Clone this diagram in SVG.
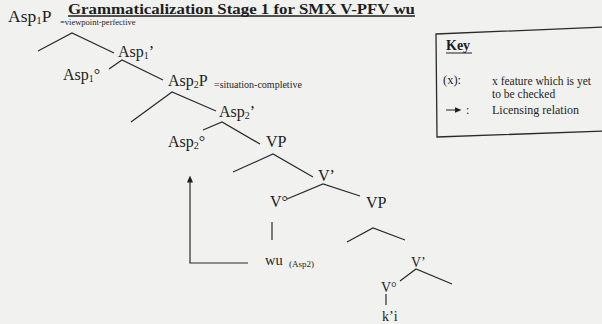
<svg xmlns="http://www.w3.org/2000/svg" width="602" height="324" viewBox="0 0 602 324">
<defs>
<style>
.t{font-family:"Liberation Serif","Times New Roman",serif;fill:#1e1e1e}
.n{font-size:16px}
.e{stroke:#2a2a2a;stroke-width:1.2;fill:none}
</style>
<marker id="ah" markerWidth="7" markerHeight="6" refX="3.5" refY="3" orient="auto" markerUnits="userSpaceOnUse">
<path d="M0,0 L7,3 L0,6 z" fill="#1e1e1e"/>
</marker>
</defs>
<rect width="602" height="324" fill="#f1f1ef"/>
<g id="title">
<text class="t" x="68" y="13.5" font-size="15" font-weight="bold" textLength="347" lengthAdjust="spacingAndGlyphs">Grammaticalization Stage 1 for SMX V-PFV wu</text>
<line x1="68" y1="16" x2="415" y2="16" stroke="#1e1e1e" stroke-width="1.3"/>
</g>
<g id="connectors">
<polyline class="e" points="38,51 72,33 114,53"/>
<polyline class="e" points="109,69 122,60 163,80"/>
<polyline class="e" points="131,122 172,92 216,111"/>
<polyline class="e" points="203,130 222,122 260,144"/>
<polyline class="e" points="233,172 273,154 313,177"/>
<polyline class="e" points="287,199 323,184 360,196"/>
<line class="e" x1="272" y1="222" x2="272" y2="240"/>
<polyline class="e" points="347,242 373,228 405,240"/>
<polyline class="e" points="400,281 416,269 452,284"/>
<line class="e" x1="386" y1="294" x2="386" y2="305"/>
<path class="e" d="M248,263 H190 V179" stroke-width="1" marker-end="url(#ah)"/>
</g>
<g id="asp1p"><text class="t" x="8" y="22" font-size="17.5">Asp<tspan font-size="11" dy="2">1</tspan><tspan dy="-2">P</tspan></text><text class="t" x="60" y="25" font-size="8.5">=viewpoint-perfective</text></g>
<g id="asp1bar"><text class="t n" x="118" y="57">Asp<tspan font-size="10" dy="2">1</tspan><tspan dy="-2">’</tspan></text></g>
<g id="asp1head"><text class="t n" x="63" y="80">Asp<tspan font-size="10" dy="2">1</tspan><tspan dy="-2">°</tspan></text></g>
<g id="asp2p"><text class="t n" x="168" y="86">Asp<tspan font-size="10" dy="2">2</tspan><tspan dy="-2">P</tspan></text><text class="t" x="214" y="88" font-size="10">=situation-completive</text></g>
<g id="asp2bar"><text class="t n" x="219" y="117">Asp<tspan font-size="10" dy="2">2</tspan><tspan dy="-2">’</tspan></text></g>
<g id="asp2head"><text class="t n" x="168" y="147">Asp<tspan font-size="10" dy="2">2</tspan><tspan dy="-2">°</tspan></text></g>
<g id="vp1"><text class="t n" x="266" y="147">VP</text></g>
<g id="vbar1"><text class="t n" x="318" y="181">V’</text></g>
<g id="vhead1"><text class="t n" x="270" y="207">V°</text></g>
<g id="vp2"><text class="t n" x="366" y="208">VP</text></g>
<g id="wu"><text class="t" x="265" y="265" font-size="14.5">wu</text><text class="t" x="289" y="267" font-size="9">(Asp2)</text></g>
<g id="vbar2"><text class="t" x="411" y="267" font-size="14">V’</text></g>
<g id="vhead2"><text class="t" x="381" y="292" font-size="14">V°</text></g>
<g id="ki"><text class="t" x="382" y="321" font-size="14">k’i</text></g>
<g id="key">
<polygon points="436,34 606,27 606,131 437,137" fill="none" stroke="#2a2a2a" stroke-width="1.3"/>
<text class="t" x="446" y="50" font-size="14" font-weight="bold">Key</text>
<line x1="446" y1="53" x2="472" y2="53" stroke="#1e1e1e" stroke-width="1"/>
<text class="t" x="443" y="84" font-size="12.5">(x):</text>
<text class="t" x="492" y="85" font-size="11.5">x feature which is yet</text>
<text class="t" x="492" y="98" font-size="11.5">to be checked</text>
<line x1="446" y1="110" x2="458" y2="110" stroke="#1e1e1e" stroke-width="1" marker-end="url(#ah)"/>
<text class="t" x="466" y="114" font-size="12">:</text>
<text class="t" x="492" y="114" font-size="12">Licensing relation</text>
</g>
</svg>
